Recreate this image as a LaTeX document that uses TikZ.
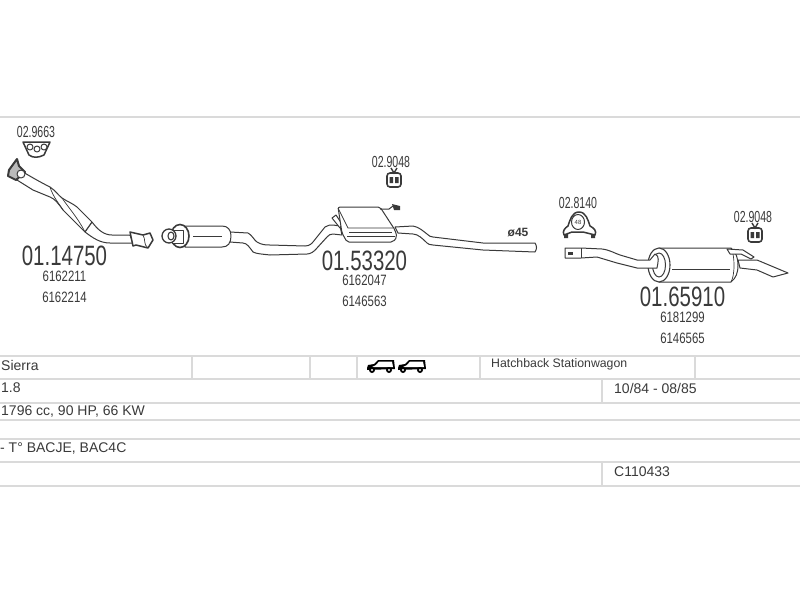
\documentclass[tikz,border=0pt]{standalone}
\usepackage{fontspec}
\setmainfont{Liberation Sans}
\usetikzlibrary{positioning}
\definecolor{inkgray}{HTML}{3A3A3A}
\definecolor{rulegray}{HTML}{DADADA}
\tikzset{
	x=1pt, y=-1pt,
	node distance=1pt,
	rule/.style={rulegray, line width=1.6pt},
	part/.style={draw=inkgray, line width=1pt, fill=white, line join=round},
	thin part/.style={draw=inkgray, line width=.7pt},
	mainno/.style={inkgray, font=\fontsize{28}{28}\selectfont, xscale=.73, inner sep=0pt},
	oemno/.style={inkgray, font=\fontsize{15}{15}\selectfont, xscale=.76, inner sep=0pt},
	mountno/.style={inkgray, font=\fontsize{16}{16}\selectfont, xscale=.66, inner sep=0pt},
	celltext/.style={inkgray, font=\fontsize{14}{14}\selectfont, anchor=west, inner sep=0pt},
	pics/wagon/.style={code={
		\fill[black] (0,8) -- (1,5) -- (7,4) -- (11,0) -- (27,0) -- (28,9) -- (0,10) -- cycle;
		\fill[white] (9,5) -- (12,1.5) -- (25,1.5) -- (26,7) -- (5,7) -- cycle;
		\fill[black] (5,10) circle (3) (22,10) circle (3);
		\fill[white] (5,10) circle (1.2) (22,10) circle (1.2);
	}},
	pics/hanger/.style={code={
		\draw[part, line width=1.6pt, rounded corners=3pt] (-7,-4) rectangle (7,10);
		\draw[inkgray, line width=1.4pt] (-3,-9) -- (0,-4) -- (3,-9);
		\fill[inkgray] (-4.5,0) rectangle (-1,6) (1,0) rectangle (4.5,6);
	}}
}

\begin{document}
\begin{tikzpicture}
	\useasboundingbox[fill=white] (0,0) rectangle (800,600);

	% table
	\foreach \yy in {117,356,379,403,420,439,462,486}
		\draw[rule] (0,\yy) -- (800,\yy);
	\foreach \xx in {192,310,357,480,695}
		\draw[rule] (\xx,356) -- (\xx,379);
	\draw[rule] (602,379) -- (602,403);
	\draw[rule] (602,462) -- (602,486);

	\node[celltext] (model) at (1,365) {Sierra};
	\node[celltext] (engine) at (1,388) {1.8};
	\node[celltext] (power) at (1,412) {1796 cc, 90 HP, 66 KW};
	\node[celltext] (codes) at (0,448) {- T° BACJE, BAC4C};
	\node[celltext, font=\fontsize{12.3}{12.3}\selectfont] (bodies) at (491,364) {Hatchback Stationwagon};
	\node[celltext] (years) at (614,388) {10/84 - 08/85};
	\node[celltext] (refno) at (614,472) {C110433};
	\pic at (367,360) {wagon};
	\pic at (398,360) {wagon};

	% front pipe
	\draw[part] (23,172) .. controls (33,178) and (42,183) .. (50,187) .. controls (56,191) and (58,195) .. (62,198) .. controls (68,202) and (72,203) .. (77,207) -- (92,222) .. controls (98,230) and (104,235) .. (112,235) -- (130,235) -- (133,243) -- (110,243) .. controls (100,243) and (93,238) .. (85,232) -- (63,210) .. controls (58,203) and (55,199) .. (50,197) -- (33,190) -- (17,180) -- cycle;
	\draw[thin part] (62,198) .. controls (68,207) and (78,218) .. (85,232);
	\draw[thin part] (50,187) .. controls (53,197) and (60,205) .. (63,210);
	\draw[part, line width=1.2pt] (92,222) .. controls (90,225) and (87,229) .. (85,232);
	\draw[part, line width=2pt, fill=inkgray!35] (9,170) -- (17,159) -- (19,166) -- (25,172) -- (16,180) -- (8,176) -- cycle;
	\draw[part] (21,174) circle (4);
	\draw[part, line width=1.5pt] (130,232) -- (143,235) -- (150,233) -- (153,240) -- (148,248) -- (136,245) -- (133,246) -- cycle;
	\draw[thin part] (143,235) .. controls (146,240) and (143,244) .. (148,248);

	% gasket
	\draw[part, line width=1.5pt] (23,142) -- (50,142) -- (44,155) .. controls (38,158) and (33,158) .. (29,155) -- cycle;
	\foreach \xx/\yy in {30/147,37/149,44/147}
		\draw[part] (\xx,\yy) circle (3);

	% centre section
	\draw[part] (230,232) -- (248,233) .. controls (252,235) and (254,240) .. (257,242) .. controls (262,245) and (266,245) .. (270,245) -- (305,246) .. controls (310,246) and (312,243) .. (313,242) -- (325,227) .. controls (328,225) and (330,225) .. (333,225) -- (340,226) -- (342,235) -- (333,234) .. controls (330,234) and (329,235) .. (327,237) -- (317,248) .. controls (314,252) and (310,254) .. (307,254) -- (270,255) .. controls (262,254) and (257,254) .. (253,252) .. controls (250,248) and (247,243) .. (243,243) -- (230,242) -- cycle;
	\draw[part] (185,226) -- (222,226) .. controls (228,226) and (231,230) .. (231,236) .. controls (231,243) and (228,247) .. (222,247) -- (185,247) -- cycle;
	\draw[thin part] (193,236) -- (222,236);
	\draw[part, line width=1.6pt] (180,236) ellipse (9 and 11.5);
	\draw[part] (172,230) rectangle (183,243);
	\draw[part, line width=1.3pt] (169,236) ellipse (7 and 7);
	\draw[part, line width=1.1pt] (171,236) ellipse (3 and 4);

	% middle muffler
	\draw[part] (332,218) -- (336,215) -- (342,224) -- (340,228) -- cycle;
	\draw[part] (395,227) -- (413,226) .. controls (419,227) and (423,231) .. (427,234) .. controls (429,236) and (431,237) .. (433,237) -- (483,243) -- (535,243) .. controls (537,246) and (537,249) .. (535,252) -- (483,250) -- (433,245) .. controls (430,245) and (428,244) .. (427,243) .. controls (423,239) and (418,234) .. (413,234) -- (398,233) -- cycle;
	\draw[part, rounded corners=2pt] (338,207) -- (380,207) -- (395,230) -- (397,237) -- (393,242) -- (347,242) -- (342,233) -- cycle;
	\draw[thin part] (338,208) -- (348,228) -- (393,228);
	\draw[thin part] (349,232) -- (392,232);
	\draw[thin part] (347,236) -- (395,236);
	\draw[inkgray, line width=1pt] (380,209) -- (389,209) -- (393,206);
	\fill[inkgray] (392,204) -- (400,206) -- (400,210) -- (394,210) -- cycle;

	% rear muffler
	\draw[part] (738,260) -- (757,260) -- (788,273) -- (773,277) -- (757,270) -- (740,268) -- cycle;
	\draw[part] (659,248) -- (731,248) .. controls (736,252) and (738,258) .. (738,265) .. controls (738,273) and (736,278) .. (731,282) -- (659,282) -- cycle;
	\draw[thin part] (731,248) .. controls (733,252) and (734,258) .. (734,265) .. controls (734,273) and (733,278) .. (731,282);
	\draw[thin part] (672,269) -- (730,269);
	\draw[part, line width=1.1pt] (659,265) ellipse (11 and 17);
	\draw[part] (659,265) ellipse (6.5 and 12);
	\draw[part] (565,248) -- (581,248) -- (602,249) .. controls (610,250) and (614,253) .. (620,255) -- (637,260) -- (650,260) -- (655,254) .. controls (660,256) and (658,262) .. (657,268) -- (637,268) -- (617,263) -- (597,257) -- (581,258) -- (565,258) -- cycle;
	\draw[thin part] (581,248) -- (581,258);
	\fill[inkgray] (568,252) rectangle (573,255);
	\draw[part] (727,249) -- (743,250) -- (754,257) -- (751,259) -- (741,254) -- (730,254) -- cycle;

	% rubber mounts
	\pic at (394,177) {hanger};
	\pic at (755,232) {hanger};
	\draw[part, line width=1.5pt] (564,235) .. controls (562,231) and (565,228) .. (568,226) .. controls (570,220) and (572,212) .. (579,212) .. controls (586,212) and (588,220) .. (590,226) .. controls (594,228) and (597,231) .. (595,235) -- (583,232) -- (572,232) -- cycle;
	\draw[part] (578,222) ellipse (6.5 and 7.5);
	\node[inkgray, font=\fontsize{6}{6}\selectfont, inner sep=0pt] (bore) at (578,222) {48};
	\fill[inkgray] (564,234) rectangle (568,238) (591,234) rectangle (595,238);

	% numbers
	\node[mountno] (mount1) at (36,132) {02.9663};
	\node[mountno] (mount2) at (391,162) {02.9048};
	\node[mountno] (mount3) at (578,203) {02.8140};
	\node[mountno] (mount4) at (753,217) {02.9048};
	\node[inkgray, font=\bfseries\fontsize{12}{12}\selectfont, inner sep=0pt] (dia) at (518,233) {ø45};

	\node[mainno] (num1) at (64.5,255.5) {01.14750};
	\node[oemno, below=5pt of num1] (oem1a) {6162211};
	\node[oemno, below=10pt of oem1a] (oem1b) {6162214};

	\node[mainno] (num2) at (364.5,260.5) {01.53320};
	\node[oemno, below=4.5pt of num2] (oem2a) {6162047};
	\node[oemno, below=10pt of oem2a] (oem2b) {6146563};

	\node[mainno] (num3) at (682.5,297) {01.65910};
	\node[oemno, below=5pt of num3] (oem3a) {6181299};
	\node[oemno, below=10pt of oem3a] (oem3b) {6146565};
\end{tikzpicture}
\end{document}
